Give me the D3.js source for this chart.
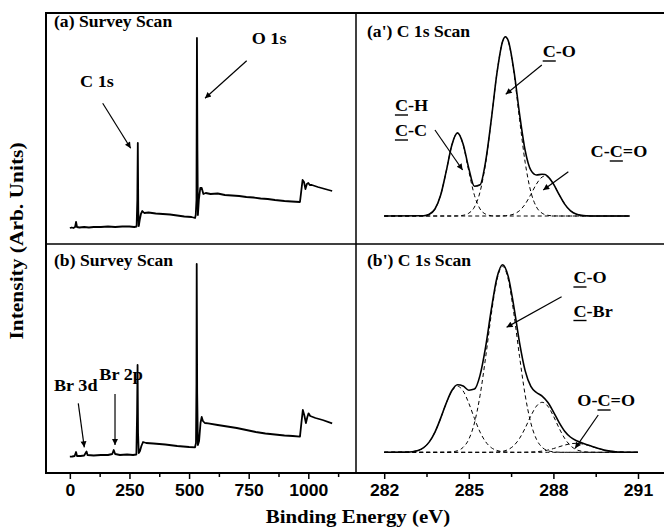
<!DOCTYPE html>
<html lang="en">
<head>
  <meta charset="UTF-8">
  <title>XPS Survey and C 1s Scans</title>
  <script src="https://d3js.org/d3.v7.min.js"></script>
  <style>
    body { margin: 0; background: #fff; }
    svg text {
      font-family: "Liberation Serif", "Times New Roman", serif;
      font-weight: bold;
      fill: #000;
    }
    .tick text {
      font-family: "Liberation Sans", Arial, sans-serif;
      font-weight: bold;
    }
  </style>
</head>
<body>
  <div id="chart"></div>
  <script>
    // survey scans: [binding energy (eV), intensity (arb.)]
    const surveyA = [
      [0,16],[8,16.5],[15,16],[22,17],[26,22],[30,17],[40,16.5],[60,17],[80,16.5],[100,17],
      [130,17],[160,17.5],[190,17],[220,17.5],[250,17.5],[270,17],[280,17.5],[283,44],[285,101],
      [287,34],[289,18],[293,24],[298,30],[304,33],[312,31],[330,31.5],[360,30.5],[390,30],
      [420,29.5],[450,28.5],[480,27.5],[510,27],[525,26],[528,29],[531,44],[533,206],[535,94],
      [537,29],[541,44],[547,56],[553,56],[560,50],[570,51],[590,50],[620,50.5],[650,49],
      [680,48.5],[710,48],[740,47],[770,46.5],[800,45.5],[830,45],[860,44],[900,43],[930,42.5],
      [965,42],[970,52],[976,64],[982,62],[988,55],[994,60],[1000,61],[1006,59],[1015,59],
      [1040,57],[1070,55],[1085,54],[1100,53]
    ];
    const surveyB = [
      [0,16.3],[10,16.5],[20,17],[26,21],[30,17],[45,17],[60,17.5],[70,21.5],[74,18],[100,17.5],
      [130,18],[160,18],[178,19],[184,23],[190,19],[210,18],[240,18.5],[265,18],[279,18.5],
      [282,60],[284,108],[286,40],[289,20],[294,22],[300,27],[307,31],[320,30],[350,29.5],
      [400,28.5],[450,27],[500,26],[525,25.7],[529,30],[531,90],[532,209],[534,80],[537,28],
      [542,32],[548,50],[553,56],[558,52],[566,50],[580,49.7],[620,48],[660,46.5],[700,45],
      [740,43],[780,41],[820,39.5],[860,38.5],[900,37.5],[935,37],[965,36.3],[971,50],[977,63],
      [983,58],[990,50],[996,56],[1001,59.7],[1008,57],[1030,55],[1060,53],[1100,49.7]
    ];

    // (a') C 1s scan, envelope and fitted components on one energy grid
    const energyA = [282.0,283.4,283.6,283.8,284.0,284.2,284.4,284.6,284.8,285.0,285.2,285.4,
      285.6,285.8,286.0,286.2,286.3,286.4,286.6,286.8,287.0,287.2,287.4,287.6,287.7,287.8,
      288.0,288.2,288.4,288.6,288.8,289.0,289.2,289.4,290.7];
    const envelopeA = [0,0.3,1.8,7.0,20.7,44.8,71.1,83.1,71.8,47.6,29.7,31.2,55.2,96.9,143.3,
      174.8,179.3,175.2,145.3,102.0,65.3,45.8,41.0,41.8,41.4,39.7,32.1,21.6,11.9,5.4,2.0,0.6,0.2,0,0];
    const chA  = [0,0.3,1.8,7.0,20.7,44.8,71.1,83,71.1,44.8,20.7,7.0,1.8,0.3,0,0,0,0,0,0,0,0,0,
      0,0,0,0,0,0,0,0,0,0,0,0];
    const coA  = [0,0,0,0,0,0,0,0.1,0.7,2.8,9.0,24.2,53.4,96.6,143.3,174.6,179,174.6,143.3,96.6,
      53.4,24.2,9.0,2.8,1.4,0.7,0.1,0,0,0,0,0,0,0,0];
    const ccoA = [0,0,0,0,0,0,0,0,0,0,0,0,0,0,0,0.2,0.3,0.6,2.0,5.4,11.9,21.6,32.0,39.0,40,39.0,
      32.0,21.6,11.9,5.4,2.0,0.6,0.2,0,0];

    // (b') C 1s scan
    const energyB = [282.0,282.8,283.0,283.2,283.4,283.6,283.8,284.0,284.2,284.4,284.6,284.8,
      285.0,285.2,285.4,285.6,285.8,286.0,286.2,286.4,286.6,286.8,287.0,287.2,287.4,287.6,
      287.8,288.0,288.2,288.4,288.6,288.8,289.0,289.2,289.4,289.6,289.8,290.0,290.2,290.4,
      290.6,291.0];
    const envelopeB = [0,0.2,0.6,1.8,4.6,10.4,20.2,33.9,49.2,61.8,67.6,66.3,62.1,63.2,77.2,106.0,
      143.1,174.8,187.6,175.7,145.2,109.5,81.4,65.9,59.8,56.2,50.0,40.5,29.9,21.1,15.3,11.8,
      9.5,7.5,5.6,3.7,2.2,1.2,0.6,0.3,0.1,0];
    const chB  = [0,0.2,0.6,1.8,4.6,10.4,20.2,33.9,49.1,61.3,66,61.3,49.1,33.9,20.2,10.4,4.6,
      1.8,0.6,0.2,0,0,0,0,0,0,0,0,0,0,0,0,0,0,0,0,0,0,0,0,0,0];
    const coB  = [0,0,0,0,0,0,0,0,0.1,0.5,1.6,5.0,13.0,29.3,57.0,95.6,138.4,172.7,186,172.7,
      138.4,95.6,57.0,29.3,13.0,5.0,1.6,0.5,0.1,0,0,0,0,0,0,0,0,0,0,0,0,0];
    const ccoB = [0,0,0,0,0,0,0,0,0,0,0,0,0,0,0,0,0.1,0.3,1.0,2.8,6.8,13.9,24.3,36.3,46.2,50,
      46.2,36.3,24.3,13.9,6.8,2.8,1.0,0.3,0.1,0,0,0,0,0,0,0];
    const ocoB = [0,0,0,0,0,0,0,0,0,0,0,0,0,0,0,0,0,0,0,0,0,0,0.1,0.3,0.6,1.2,2.2,3.7,5.5,7.2,
      8.5,9,8.5,7.2,5.5,3.7,2.2,1.2,0.6,0.3,0.1,0];

    const surveyTicks = [0, 250, 500, 750, 1000];
    const surveyMinor = [125, 375, 625, 875, 1125];
    const c1sTicks = [282, 285, 288, 291];
    const c1sMinor = [283.5, 286.5, 289.5];

    const width = 664, height = 530;
    const plotLeft = 46, plotMid = 356, plotTop = 13, plotHmid = 244, plotBottom = 473;
    const stretch = "scale(1.1,1)";

    const svg = d3.select("#chart").append("svg")
      .attr("width", width)
      .attr("height", height);

    svg.append("defs").append("marker")
      .attr("id", "arrow")
      .attr("viewBox", "0 0 10 10")
      .attr("refX", 10).attr("refY", 5)
      .attr("markerWidth", 9).attr("markerHeight", 6)
      .attr("markerUnits", "userSpaceOnUse")
      .attr("orient", "auto")
      .append("path").attr("d", "M0,0L10,5L0,10z").attr("fill", "#000");

    // scales
    const xSurvey = d3.scaleLinear().domain([-100, 1200]).range([plotLeft, plotMid]);
    const xC1s = d3.scaleLinear().domain([281, 292]).range([plotMid, plotMid + 11 * 28.2]);
    const ySurveyA = d3.scaleLinear().domain([0, 231]).range([plotHmid, plotTop]);
    const ySurveyB = d3.scaleLinear().domain([0, 229]).range([plotBottom, plotHmid]);
    const yC1sA = d3.scaleLinear().domain([-28, 203]).range([plotHmid, plotTop]);
    const yC1sB = d3.scaleLinear().domain([-20.7, 208.3]).range([plotBottom, plotHmid]);

    // survey lines
    const surveyLine = y => d3.line().x(d => xSurvey(d[0])).y(d => y(d[1]));
    svg.append("path").datum(surveyA)
      .attr("d", surveyLine(ySurveyA))
      .attr("fill", "none").attr("stroke", "#000").attr("stroke-width", 1.8)
      .attr("stroke-linejoin", "round");
    svg.append("path").datum(surveyB)
      .attr("d", surveyLine(ySurveyB))
      .attr("fill", "none").attr("stroke", "#000").attr("stroke-width", 1.8)
      .attr("stroke-linejoin", "round");

    // C 1s curves
    function drawScan(energy, series, y, dashed) {
      const line = d3.line()
        .curve(d3.curveMonotoneX)
        .x((d, i) => xC1s(energy[i]))
        .y(d => y(d));
      svg.append("path").datum(series)
        .attr("d", line)
        .attr("fill", "none")
        .attr("stroke", "#000")
        .attr("stroke-width", dashed ? 1 : 1.6)
        .attr("stroke-dasharray", dashed ? "4,3" : null);
    }
    [chA, coA, ccoA].forEach(s => drawScan(energyA, s, yC1sA, true));
    drawScan(energyA, envelopeA, yC1sA, false);
    [chB, coB, ccoB, ocoB].forEach(s => drawScan(energyB, s, yC1sB, true));
    drawScan(energyB, envelopeB, yC1sB, false);

    // frame
    svg.append("rect")
      .attr("x", plotLeft).attr("y", plotTop)
      .attr("width", xC1s(292) - plotLeft).attr("height", plotBottom - plotTop)
      .attr("fill", "none").attr("stroke", "#000").attr("stroke-width", 2);
    svg.append("line")
      .attr("x1", plotMid).attr("x2", plotMid).attr("y1", plotTop).attr("y2", plotBottom)
      .attr("stroke", "#000").attr("stroke-width", 1.5);
    svg.append("line")
      .attr("x1", plotLeft).attr("x2", xC1s(292)).attr("y1", plotHmid).attr("y2", plotHmid)
      .attr("stroke", "#000").attr("stroke-width", 1.5);

    // axes
    function addAxis(scale, major, minor) {
      const g = svg.append("g").attr("transform", `translate(0,${plotBottom})`);
      g.call(d3.axisBottom(scale).tickValues(major).tickSize(6).tickSizeOuter(0)
        .tickPadding(6).tickFormat(d3.format("d")));
      g.select(".domain").remove();
      g.selectAll("line").attr("stroke-width", 1.5);
      g.selectAll("text").attr("font-size", 16).attr("transform", stretch);
      const m = svg.append("g").attr("transform", `translate(0,${plotBottom})`);
      m.call(d3.axisBottom(scale).tickValues(minor).tickSize(4).tickFormat(""));
      m.select(".domain").remove();
      m.selectAll("line").attr("stroke-width", 1.5);
    }
    addAxis(xSurvey, surveyTicks, surveyMinor);
    addAxis(xC1s, c1sTicks, c1sMinor);

    // text helper (glyphs in the original are a little wide)
    function label(x, y, str, size, underline) {
      const tf = `translate(${x},${y}) ${stretch}`;
      const t = svg.append("text").attr("transform", tf).attr("font-size", size).text(str);
      if (underline != null) {
        const node = t.node();
        const x0 = node.getStartPositionOfChar(underline).x;
        const x1 = node.getEndPositionOfChar(underline).x;
        svg.append("line").attr("transform", tf)
          .attr("x1", x0).attr("x2", x1).attr("y1", 4).attr("y2", 4)
          .attr("stroke", "#000").attr("stroke-width", 1.4);
      }
      return t;
    }
    function arrow(x1, y1, x2, y2) {
      svg.append("line")
        .attr("x1", x1).attr("y1", y1).attr("x2", x2).attr("y2", y2)
        .attr("stroke", "#000").attr("stroke-width", 1.2)
        .attr("marker-end", "url(#arrow)");
    }

    // panel titles
    label(plotLeft + 8, plotTop + 14, "(a) Survey Scan", 16);
    label(plotMid + 11, plotTop + 24, "(a') C 1s Scan", 16);
    label(plotLeft + 8, plotHmid + 21.5, "(b) Survey Scan", 16);
    label(plotMid + 11, plotHmid + 22, "(b') C 1s Scan", 16);

    // peak annotations, positioned in data units
    const notesA = [
      { text: "C 1s", at: [42.6, 157], tail: [137.8, 140.7], head: [255.2, 95.7] },
      { text: "O 1s", at: [762.6, 200], tail: [741.6, 183.3], head: [566.8, 145.7] }
    ];
    const notesB = [
      { text: "Br 3d", at: [-66.5, 82], tail: [35.4, 69.7], head: [60.6, 25.7] },
      { text: "Br 2p", at: [123.5, 93], tail: [189.4, 79], head: [189.4, 28] }
    ];
    const notesA2 = [
      { text: "C-O", u: 0, at: [287.62, 159], tail: [287.59, 151], head: [286.31, 121.7] },
      { text: "C-H", u: 0, at: [282.38, 105] },
      { text: "C-C", u: 0, at: [282.38, 80], tail: [283.80, 86], head: [284.78, 46] },
      { text: "C-C=O", u: 2, at: [289.32, 59], tail: [288.53, 44.3], head: [287.64, 26] }
    ];
    const notesB2 = [
      { text: "C-O", u: 0, at: [288.71, 169.3], tail: [288.29, 155.6], head: [286.34, 125] },
      { text: "C-Br", u: 0, at: [288.71, 135.8] },
      { text: "O-C=O", u: 2, at: [288.85, 46.3], tail: [289.59, 37.3], head: [288.77, 4] }
    ];
    function annotate(notes, x, y) {
      notes.forEach(n => {
        label(x(n.at[0]), y(n.at[1]), n.text, 16.5, n.u);
        if (n.tail) arrow(x(n.tail[0]), y(n.tail[1]), x(n.head[0]), y(n.head[1]));
      });
    }
    annotate(notesA, xSurvey, ySurveyA);
    annotate(notesB, xSurvey, ySurveyB);
    annotate(notesA2, xC1s, yC1sA);
    annotate(notesB2, xC1s, yC1sB);

    // axis titles
    svg.append("text")
      .attr("transform", `translate(358,523) ${stretch}`)
      .attr("text-anchor", "middle")
      .attr("font-size", 19)
      .text("Binding Energy (eV)");
    svg.append("text")
      .attr("transform", `translate(23,241) rotate(-90) ${stretch}`)
      .attr("text-anchor", "middle")
      .attr("font-size", 19.5)
      .text("Intensity (Arb. Units)");
  </script>
</body>
</html>
